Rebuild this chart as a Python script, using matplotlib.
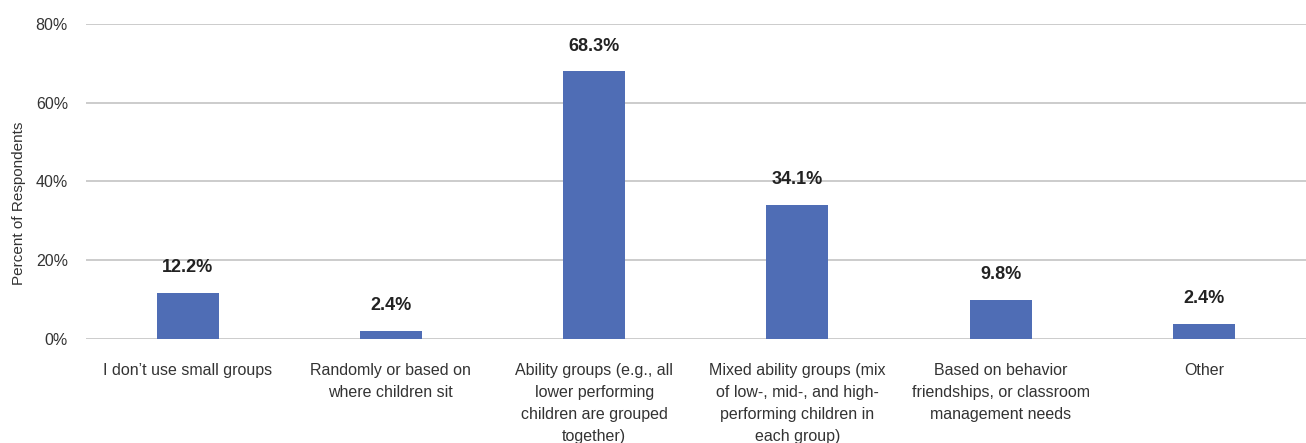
import numpy as np
import matplotlib
matplotlib.use("Agg")
import matplotlib.pyplot as plt

plt.rcParams['font.family'] = ['Liberation Sans Narrow', 'Liberation Sans', 'DejaVu Sans']

categories = ["I don\u2019t use small groups",
              "Randomly or based on\nwhere children sit",
              "Ability groups (e.g., all\nlower performing\nchildren are grouped\ntogether)",
              "Mixed ability groups (mix\nof low-, mid-, and high-\nperforming children in\neach group)",
              "Based on behavior\nfriendships, or classroom\nmanagement needs",
              "Other"]
# bar heights as drawn, labels as printed
bar_values = [11.7, 2.0, 68.0, 34.0, 9.9, 3.8]
value_labels = ["12.2%", "2.4%", "68.3%", "34.1%", "9.8%", "2.4%"]
yticks = [0, 20, 40, 60, 80]

fig = plt.figure(figsize=(13.06, 4.43), dpi=100)
ax = fig.add_axes([0.0658, 0.235, 0.934, 0.711])

x = np.arange(len(categories))
bars = ax.bar(x, bar_values, width=0.305, color="#4f6db5", zorder=3)

for b, lab in zip(bars, value_labels):
    ax.annotate(lab, (b.get_x() + b.get_width()/2, b.get_height()),
                xytext=(0, 12), textcoords="offset points",
                ha="center", va="bottom", fontsize=13, fontweight="bold",
                color="#222222")

ax.set_xlim(-0.5, len(categories) - 0.5)
ax.set_ylim(0, 80)
ax.set_yticks(yticks)
ax.set_yticklabels(["{}%".format(t) for t in yticks], fontsize=11.5, color="#333333")
ax.set_xticks(x)
ax.set_xticklabels(categories, fontsize=11.5, color="#333333", linespacing=1.6)
ax.tick_params(axis="both", length=0)
ax.tick_params(axis="y", pad=13)
ax.tick_params(axis="x", pad=17)

ax.grid(axis="y", color="#c8c8c8", linewidth=1.3, zorder=0)
for s in ax.spines.values():
    s.set_visible(False)

ax.set_ylabel("Percent of Respondents", fontsize=11, color="#333333")
ax.yaxis.set_label_coords(-0.049, 0.43)

fig.savefig("out.png", dpi=100)
